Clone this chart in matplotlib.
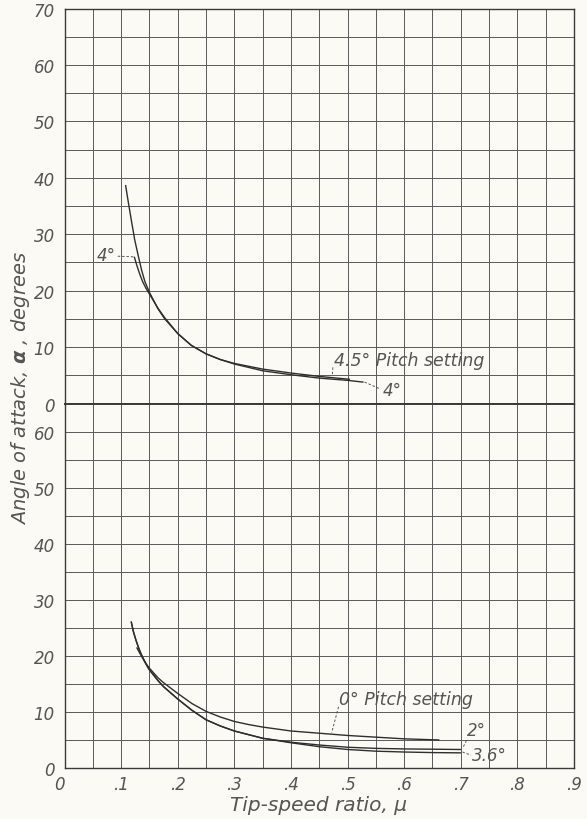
import matplotlib
matplotlib.use("Agg")
import matplotlib.pyplot as plt
import numpy as np

plt.rcParams['font.family'] = ['DejaVu Sans']
plt.rcParams['mathtext.fontset'] = 'dejavusans'

# upper chart: 4.5 deg and 4 deg pitch setting
mu_45 = [0.108, 0.113, 0.118, 0.124, 0.130, 0.136, 0.142, 0.150, 0.165, 0.177,
         0.200, 0.224, 0.250, 0.275, 0.300, 0.350, 0.400, 0.450, 0.503]
alpha_45 = [38.6, 35.5, 32.5, 29.0, 26.3, 23.7, 21.6, 19.7, 16.8, 15.0,
            12.4, 10.3, 8.8, 7.8, 7.1, 6.1, 5.4, 4.8, 4.3]
mu_4 = [0.1235, 0.128, 0.133, 0.138, 0.144, 0.150, 0.165, 0.177, 0.200, 0.224,
        0.250, 0.275, 0.300, 0.350, 0.400, 0.450, 0.500, 0.527]
alpha_4 = [25.9, 24.4, 22.9, 21.6, 20.4, 19.4, 16.9, 15.2, 12.4, 10.3,
           8.8, 7.8, 7.0, 5.8, 5.1, 4.5, 4.1, 3.8]

# lower chart: 0, 2 and 3.6 deg pitch setting
mu_0 = [0.128, 0.135, 0.144, 0.150, 0.165, 0.175, 0.200, 0.225, 0.250, 0.275,
        0.300, 0.325, 0.350, 0.400, 0.450, 0.500, 0.550, 0.600, 0.661]
alpha_0 = [21.4, 20.1, 18.6, 17.8, 16.1, 15.2, 13.3, 11.5, 10.1, 9.1,
           8.3, 7.75, 7.3, 6.6, 6.2, 5.8, 5.5, 5.2, 5.0]
mu_2 = [0.118, 0.122, 0.1265, 0.131, 0.135, 0.141, 0.147, 0.150, 0.165, 0.175,
        0.200, 0.225, 0.250, 0.275, 0.300, 0.350, 0.400, 0.450, 0.500, 0.550,
        0.600, 0.650, 0.699]
alpha_2 = [26.0, 24.2, 22.7, 21.4, 20.4, 19.1, 18.0, 17.5, 15.6, 14.5,
           12.3, 10.3, 8.6, 7.5, 6.6, 5.3, 4.6, 4.1, 3.7, 3.5,
           3.4, 3.35, 3.3]
mu_36 = mu_2
alpha_36 = [26.0, 24.2, 22.7, 21.4, 20.4, 19.1, 18.0, 17.5, 15.6, 14.5,
            12.3, 10.3, 8.6, 7.5, 6.6, 5.3, 4.5, 3.8, 3.3, 3.0,
            2.85, 2.75, 2.7]

x_ticks = [0, 0.1, 0.2, 0.3, 0.4, 0.5, 0.6, 0.7, 0.8, 0.9]
x_labels = ['0', '.1', '.2', '.3', '.4', '.5', '.6', '.7', '.8', '.9']

paper = '#fbfaf4'
ink = '#2e2e2e'
gridc = '#5a5a5a'
textc = '#555555'
tfont = dict(style='italic', color=textc)

fig = plt.figure(figsize=(5.87, 8.2), dpi=100, facecolor=paper)
ax_top = fig.add_axes([0.1099, 0.5067, 0.868, 0.4817])
ax_bot = fig.add_axes([0.1099, 0.0622, 0.868, 0.4445])

for ax, ymax, yt in [(ax_top, 70, np.arange(0, 71, 10)), (ax_bot, 65, np.arange(0, 61, 10))]:
    ax.set_facecolor(paper)
    ax.set_xlim(0, 0.9)
    ax.set_ylim(0, ymax)
    ax.set_xticks(x_ticks)
    ax.set_xticks(np.arange(0.05, 0.9, 0.1), minor=True)
    ax.set_yticks(yt)
    ax.set_yticks(np.arange(5, ymax, 10), minor=True)
    ax.grid(which='both', color=gridc, linewidth=0.7)
    ax.tick_params(which='both', length=0, labelsize=12, labelcolor=textc, pad=7)
    ax.set_yticklabels([str(v) for v in yt], style='italic')
    for s in ax.spines.values():
        s.set_color('#3a3a3a')
        s.set_linewidth(1.0)

ax_top.set_xticklabels([])
ax_top.spines['bottom'].set_linewidth(1.4)
ax_bot.spines['top'].set_linewidth(1.4)
ax_bot.set_xticklabels(x_labels, style='italic')
ax_bot.get_xticklabels()[0].set_ha('right')
ax_bot.tick_params(axis='x', pad=5)

lw = 1.0
ax_top.plot(mu_45, alpha_45, color=ink, lw=lw)
ax_top.plot(mu_4, alpha_4, color=ink, lw=lw)
ax_bot.plot(mu_0, alpha_0, color=ink, lw=lw)
ax_bot.plot(mu_2, alpha_2, color=ink, lw=lw)
ax_bot.plot(mu_36, alpha_36, color=ink, lw=lw)

dash = dict(color='#555555', lw=0.7, ls=(0, (2.5, 2)))

# upper annotations
ax_top.text(0.091, 26.3, '4°', ha='right', va='center', fontsize=12, **tfont)
ax_top.plot([0.094, 0.1225], [26.1, 26.0], **dash)
ax_top.text(0.476, 7.65, '4.5° Pitch setting', ha='left', va='center', fontsize=12.5, **tfont)
ax_top.plot([0.474, 0.473], [6.4, 4.9], **dash)
ax_top.text(0.562, 2.35, '4°', ha='left', va='center', fontsize=12, **tfont)
ax_top.plot([0.530, 0.556], [3.8, 2.65], **dash)

# lower annotations
ax_bot.text(0.484, 12.3, '0° Pitch setting', ha='left', va='center', fontsize=12.5, **tfont)
ax_bot.plot([0.484, 0.472], [10.9, 6.3], **dash)
ax_bot.text(0.728, 6.8, '2°', ha='center', va='center', fontsize=12, **tfont)
ax_bot.plot([0.710, 0.703], [4.9, 3.5], **dash)
ax_bot.text(0.720, 2.3, '3.6°', ha='left', va='center', fontsize=12, **tfont)
ax_bot.plot([0.703, 0.718], [2.85, 2.3], **dash)

fig.text(0.035, 0.527, r'Angle of attack, $\boldsymbol{\alpha}$ , degrees', rotation=90,
         ha='center', va='center', fontsize=14, **tfont)
fig.text(0.543, 0.018, 'Tip-speed ratio, μ', ha='center', va='center', fontsize=14.5, **tfont)

fig.savefig('out.png', dpi=100, facecolor=paper)
